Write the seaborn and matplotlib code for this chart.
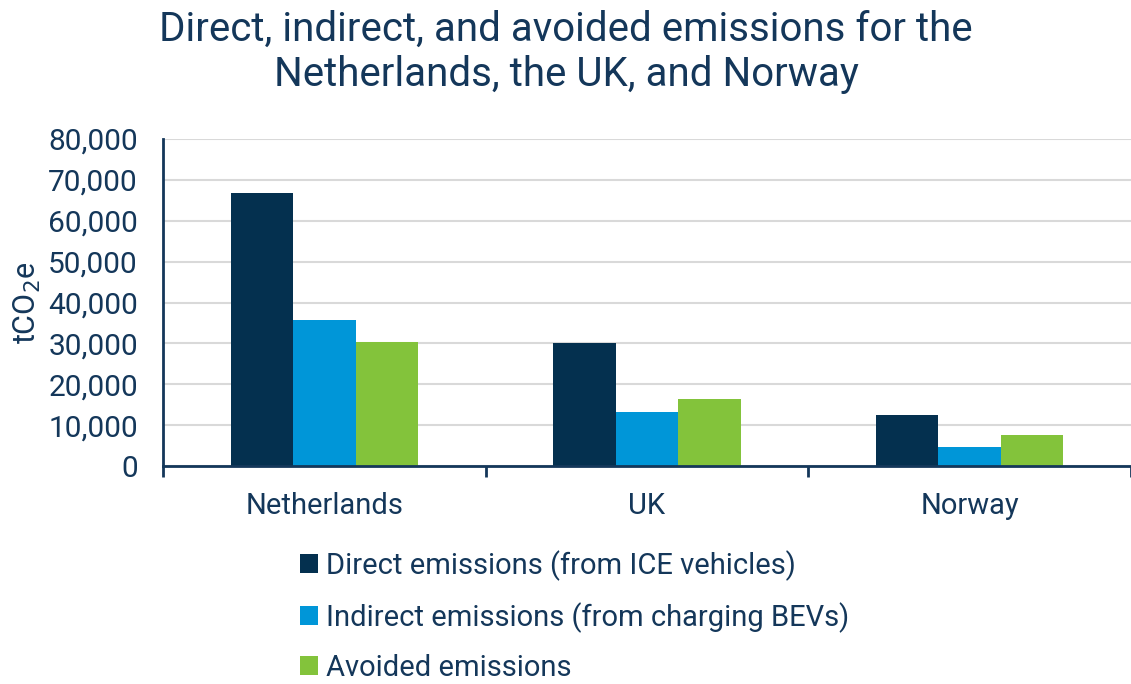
import pandas as pd
import matplotlib.pyplot as plt
from matplotlib.patches import Patch
import seaborn as sns

# Emissions by country (tCO2e)
countries = ["Netherlands", "UK", "Norway"]
series = [
    "Direct emissions (from ICE vehicles)",
    "Indirect emissions (from charging BEVs)",
    "Avoided emissions",
]
direct = [66700, 30100, 12500]
indirect = [35800, 13200, 4700]
avoided = [30400, 16300, 7500]
y_ticks = [0, 10000, 20000, 30000, 40000, 50000, 60000, 70000, 80000]

colors = ["#04304F", "#0096D8", "#83C33B"]
text_color = "#14375A"

df = pd.DataFrame({
    "country": countries * 3,
    "series": [s for s in series for _ in countries],
    "value": direct + indirect + avoided,
})

sns.set_theme(style="white")
plt.rcParams["font.family"] = ["Roboto", "DejaVu Sans"]

fig = plt.figure(figsize=(11.31, 6.84), dpi=100)
ax = fig.add_axes([163 / 1131, 1 - 466 / 684, 1 - 163 / 1131, (466 - 139) / 684])

sns.barplot(data=df, x="country", y="value", hue="series", order=countries,
            hue_order=series, palette=colors, width=0.58, saturation=1,
            edgecolor="none", linewidth=0, legend=False, ax=ax, zorder=3)

ax.set_xlim(-0.5, 2.5)
ax.set_ylim(0, 80000)
ax.set_yticks(y_ticks)
ax.set_yticklabels([f"{v:,}" for v in y_ticks], fontsize=21.5, color=text_color)
ax.yaxis.grid(True, color="#D9D9D9", linewidth=1.5, zorder=0)
ax.tick_params(axis="y", length=0, pad=18)

# tick marks between categories, labels centred on categories
ax.set_xticks([-0.5, 0.5, 1.5, 2.5])
ax.set_xticklabels([])
ax.set_xticks([0, 1, 2], minor=True)
ax.set_xticklabels(countries, minor=True, fontsize=21, color=text_color)
ax.tick_params(axis="x", which="major", length=8, width=2, color=text_color, direction="out")
ax.tick_params(axis="x", which="minor", length=0, pad=19)
ax.xaxis.set_ticks_position("bottom")

for side in ["top", "right"]:
    ax.spines[side].set_visible(False)
for side in ["left", "bottom"]:
    ax.spines[side].set_color(text_color)
    ax.spines[side].set_linewidth(2)
    ax.spines[side].set_zorder(4)

ax.set_xlabel("")
ax.set_ylabel("tCO$_2$e", fontsize=22, color=text_color, labelpad=4)

fig.suptitle("Direct, indirect, and avoided emissions for the\nNetherlands, the UK, and Norway",
             x=566 / 1131, y=1 - 10 / 684, fontsize=29, color=text_color,
             linespacing=1.2, va="top")

handles = [Patch(facecolor=c, edgecolor="none") for c in colors]
fig.legend(handles, series, loc="upper left", bbox_to_anchor=(274 / 1131, 1 - 524 / 684),
           frameon=False, fontsize=21, labelcolor=text_color, handlelength=0.62,
           handleheight=0.62, handletextpad=0.25, labelspacing=0.72)

fig.savefig("out.png", dpi=100)
